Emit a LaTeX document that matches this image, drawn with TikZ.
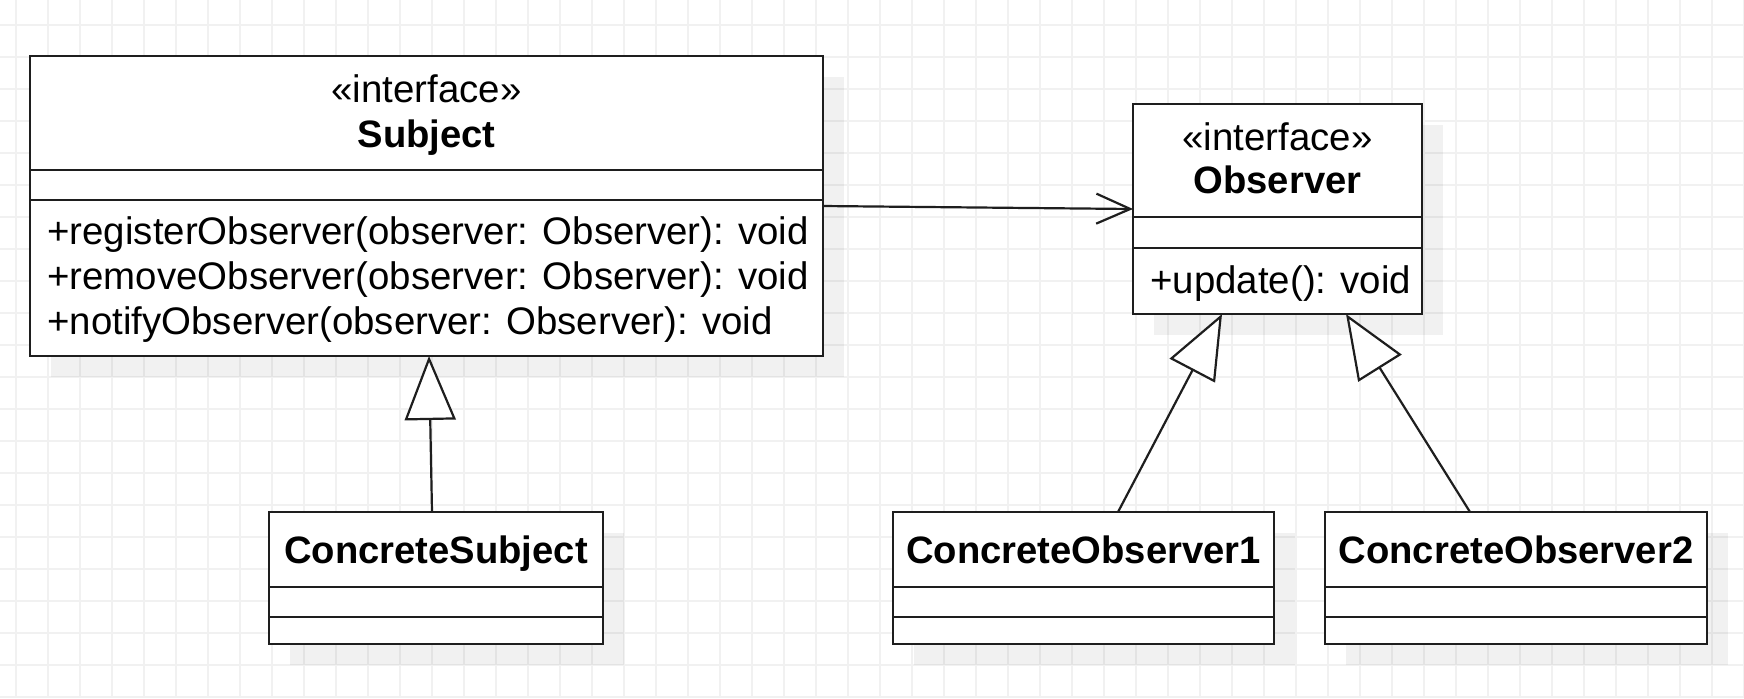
\documentclass[tikz,border=0pt]{standalone}
\usepackage{fontspec}
\setmainfont{Liberation Sans}
\usetikzlibrary{arrows.meta,shadows,calc}
\definecolor{gridc}{HTML}{F1F1F1}
\definecolor{linec}{HTML}{1E1E1E}
\begin{document}
\begin{tikzpicture}[x=0.5pt,y=-0.5pt,
  classbox/.style={draw=linec, line width=1.4pt, fill=white, inner sep=0pt, outer sep=0pt,
    drop shadow={shadow xshift=10.5pt, shadow yshift=-10.5pt, fill=black, opacity=0.055}},
  sepline/.style={draw=linec, line width=1.4pt},
  txt/.style={inner sep=0pt, anchor=base, font=\fontsize{19.2pt}{22pt}\selectfont},
  btxt/.style={txt, font=\fontsize{19.1pt}{22pt}\selectfont\bfseries},
  mtxt/.style={txt, anchor=base west},
  assoc/.style={draw=linec, line width=1.1pt, -{Straight Barb[length=17pt,width=15pt]}},
  gen/.style={draw=linec, line width=1.1pt, -{Triangle[length=32pt,width=25.5pt,fill=white]}},
  gridline/.style={draw=gridc, line width=1pt}]
\fill[white] (0,0) rectangle (1744,698);
\useasboundingbox (0,0) rectangle (1744,698);
% grid
\foreach \i in {0,...,54} \draw[gridline] ({15.5+32*\i},0) -- ({15.5+32*\i},698);
\foreach \j in {0,...,21} \draw[gridline] (0,{25+32*\j}) -- (1744,{25+32*\j});

% Subject
\node[classbox, minimum width=396.5pt, minimum height=150pt] (subj) at (426.5,206) {};
\draw[sepline] (subj.west |- 0,170) -- (subj.east |- 0,170);
\draw[sepline] (subj.west |- 0,200) -- (subj.east |- 0,200);
\node[txt] (subjst) at (426.5,102) {«interface»};
\node[btxt] (subjname) at (426.5,147) {Subject};
\node[mtxt] (m1) at (47,244) {+registerObserver(observer: Observer): void};
\node[mtxt] (m2) at (47,289) {+removeObserver(observer: Observer): void};
\node[mtxt] (m3) at (47,334) {+notifyObserver(observer: Observer): void};

% Observer
\node[classbox, minimum width=144.5pt, minimum height=105pt] (obs) at (1277.5,209) {};
\draw[sepline] (obs.west |- 0,217) -- (obs.east |- 0,217);
\draw[sepline] (obs.west |- 0,248) -- (obs.east |- 0,248);
\node[txt] (obsst) at (1277.5,150) {«interface»};
\node[btxt] (obsname) at (1277.5,193) {Observer};
\node[mtxt] (u1) at (1150,293) {+update(): void};

% ConcreteSubject
\node[classbox, minimum width=167pt, minimum height=66pt] (cs) at (436,578) {};
\draw[sepline] (cs.west |- 0,587) -- (cs.east |- 0,587);
\draw[sepline] (cs.west |- 0,617) -- (cs.east |- 0,617);
\node[btxt] (csname) at (436,563) {ConcreteSubject};

% ConcreteObserver1
\node[classbox, minimum width=190.5pt, minimum height=66pt] (co1) at (1083.5,578) {};
\draw[sepline] (co1.west |- 0,587) -- (co1.east |- 0,587);
\draw[sepline] (co1.west |- 0,617) -- (co1.east |- 0,617);
\node[btxt] (co1name) at (1083.5,563) {ConcreteObserver1};

% ConcreteObserver2
\node[classbox, minimum width=191pt, minimum height=66pt] (co2) at (1516,578) {};
\draw[sepline] (co2.west |- 0,587) -- (co2.east |- 0,587);
\draw[sepline] (co2.west |- 0,617) -- (co2.east |- 0,617);
\node[btxt] (co2name) at (1516,563) {ConcreteObserver2};

% connectors
\draw[assoc] (subj.east) -- (obs.west);
\draw[gen] ($(cs.north)+(-4,0)$) -- ($(subj.south)+(2.5,0)$);
\draw[gen] ($(co1.north)+(34.5,0)$) -- ($(obs.south)+(-55.5,0)$);
\draw[gen] ($(co2.north)+(-46,0)$) -- ($(obs.south)+(68.5,0)$);
\end{tikzpicture}
\end{document}
